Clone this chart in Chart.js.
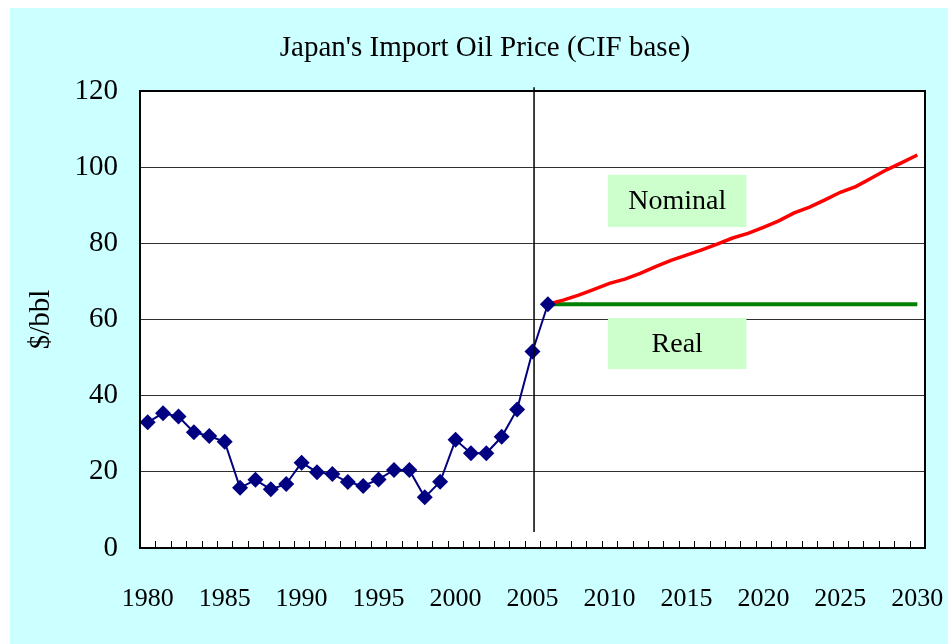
<!DOCTYPE html>
<html>
<head>
<meta charset="utf-8">
<script src="https://cdn.jsdelivr.net/npm/chart.js@4.4.1/dist/chart.umd.min.js"></script>
<style>
  html, body { margin: 0; padding: 0; background: #ffffff; }
  #wrap { width: 948px; height: 644px; }
</style>
</head>
<body>
<div id="wrap"><canvas id="chart" width="948" height="644"></canvas></div>
<script>
// years on the x axis
const years = [];
for (let y = 1980; y <= 2030; y++) years.push(y);

// historical CIF price, 1980-2006 ($/bbl)
const actual = [33.0, 35.4, 34.5, 30.4, 29.4, 27.9, 15.8, 17.9, 15.4, 16.8,
                22.4, 19.9, 19.4, 17.3, 16.3, 18.0, 20.5, 20.5, 13.3, 17.4,
                28.4, 24.9, 24.9, 29.2, 36.4, 51.6, 64.0];

// outlook 2006-2030
const nominal = [64.0, 65.1, 66.4, 67.9, 69.5, 70.6, 72.1, 73.9, 75.5, 76.9,
                 78.3, 79.8, 81.4, 82.6, 84.2, 85.9, 88.0, 89.5, 91.4, 93.4,
                 94.9, 97.1, 99.3, 101.2, 103.2];
const real = [64, 64, 64, 64, 64, 64, 64, 64, 64, 64, 64, 64, 64, 64, 64,
              64, 64, 64, 64, 64, 64, 64, 64, 64, 64];

const yTicks = [0, 20, 40, 60, 80, 100, 120];
const titleText = "Japan's Import Oil Price (CIF base)";

// labelled boxes: x range in category index, y range in $/bbl
const boxes = [
  { text: 'Nominal', x0: 29.9, x1: 38.9, y0: 84.3, y1: 98.0 },
  { text: 'Real', x0: 29.9, x1: 38.9, y0: 47.0, y1: 60.4 }
];
// vertical divider near 2005
const divider = { x: 25.1, y0: 4.2, y1: 121 };

// pad series to the full year range
const startOutlook = years.indexOf(2006);
const pad = (arr, start) => years.map((_, i) => (i >= start && i - start < arr.length) ? arr[i - start] : null);

const SERIF = "'Liberation Serif', 'Times New Roman', serif";

const decor = {
  id: 'decor',
  beforeDraw(chart) {
    const { ctx, chartArea } = chart;
    ctx.save();
    ctx.fillStyle = '#ffffff';
    ctx.fillRect(0, 0, chart.width, chart.height);
    ctx.fillStyle = '#ccffff';
    ctx.fillRect(10, 8, chart.width - 10, chart.height - 8);
    ctx.fillStyle = '#ffffff';
    ctx.fillRect(chartArea.left, chartArea.top, chartArea.right - chartArea.left, chartArea.bottom - chartArea.top);
    // title, centred a bit right of the canvas middle like the original
    ctx.fillStyle = '#000000';
    ctx.font = '29px ' + SERIF;
    ctx.textAlign = 'center';
    ctx.textBaseline = 'middle';
    ctx.fillText(titleText, 485, 48);
    ctx.restore();
  },
  beforeDatasetsDraw(chart) {
    const { ctx } = chart;
    const xs = chart.scales.x, ys = chart.scales.y;
    ctx.save();
    boxes.forEach(b => {
      const l = xs.getPixelForValue(b.x0), r = xs.getPixelForValue(b.x1);
      const t = ys.getPixelForValue(b.y1), btm = ys.getPixelForValue(b.y0);
      ctx.fillStyle = '#ccffcc';
      ctx.fillRect(l, t, r - l, btm - t);
      ctx.fillStyle = '#000000';
      ctx.font = '28px ' + SERIF;
      ctx.textAlign = 'center';
      ctx.textBaseline = 'middle';
      ctx.fillText(b.text, (l + r) / 2, (t + btm) / 2 + 1);
    });
    ctx.restore();
  },
  afterDraw(chart) {
    const { ctx, chartArea } = chart;
    const xs = chart.scales.x, ys = chart.scales.y;
    ctx.save();
    // inner tick marks between categories
    const step = (chartArea.right - chartArea.left) / years.length;
    ctx.strokeStyle = '#000000';
    ctx.lineWidth = 1;
    for (let i = 1; i < years.length; i++) {
      const x = Math.round(xs.getPixelForValue(i) - step / 2) + 0.5;
      ctx.beginPath();
      ctx.moveTo(x, chartArea.bottom);
      ctx.lineTo(x, chartArea.bottom - 7);
      ctx.stroke();
    }
    // divider
    const dx = xs.getPixelForValue(divider.x);
    ctx.lineWidth = 1.5;
    ctx.beginPath();
    ctx.moveTo(dx, ys.getPixelForValue(divider.y1));
    ctx.lineTo(dx, ys.getPixelForValue(divider.y0));
    ctx.stroke();
    // plot frame
    ctx.lineWidth = 2;
    ctx.strokeRect(chartArea.left, chartArea.top, chartArea.right - chartArea.left, chartArea.bottom - chartArea.top);
    ctx.restore();
  }
};

new Chart(document.getElementById('chart'), {
  type: 'line',
  data: {
    labels: years,
    datasets: [
      {
        label: 'Actual',
        data: pad(actual, 0),
        borderColor: '#000080',
        backgroundColor: '#000080',
        borderWidth: 2,
        pointStyle: 'rectRot',
        pointRadius: 8,
        pointBorderWidth: 0,
        tension: 0
      },
      {
        label: 'Nominal',
        data: pad(nominal, startOutlook),
        borderColor: '#ff0000',
        borderWidth: 3.5,
        pointRadius: 0,
        tension: 0
      },
      {
        label: 'Real',
        data: pad(real, startOutlook),
        borderColor: '#008000',
        borderWidth: 4,
        pointRadius: 0,
        tension: 0
      }
    ]
  },
  options: {
    responsive: false,
    animation: false,
    layout: { padding: { left: 0, right: 23, top: 91, bottom: 0 } },
    plugins: {
      legend: { display: false },
      tooltip: { enabled: false },
      title: { display: false }
    },
    scales: {
      x: {
        type: 'category',
        offset: true,
        grid: { display: false },
        border: { display: false },
        ticks: {
          autoSkip: false,
          maxRotation: 0,
          padding: 28,
          color: '#000000',
          font: { family: SERIF, size: 26 },
          callback: function (v, i) { return years[i] % 5 === 0 ? String(years[i]) : ''; }
        },
        afterFit: s => { s.height = 96; s.paddingLeft = 0; s.paddingRight = 0; }
      },
      y: {
        min: 0,
        max: 120,
        afterBuildTicks: s => { s.ticks = yTicks.map(v => ({ value: v })); },
        grid: { color: '#303030', lineWidth: 1, drawTicks: false },
        border: { display: false },
        ticks: {
          padding: 22,
          color: '#000000',
          font: { family: SERIF, size: 29 }
        },
        title: {
          display: true,
          text: '$/bbl',
          color: '#000000',
          font: { family: SERIF, size: 29 },
          padding: { top: 24 }
        },
        afterFit: s => { s.width = 140; s.paddingTop = 0; s.paddingBottom = 0; }
      }
    }
  },
  plugins: [decor]
});
</script>
</body>
</html>
